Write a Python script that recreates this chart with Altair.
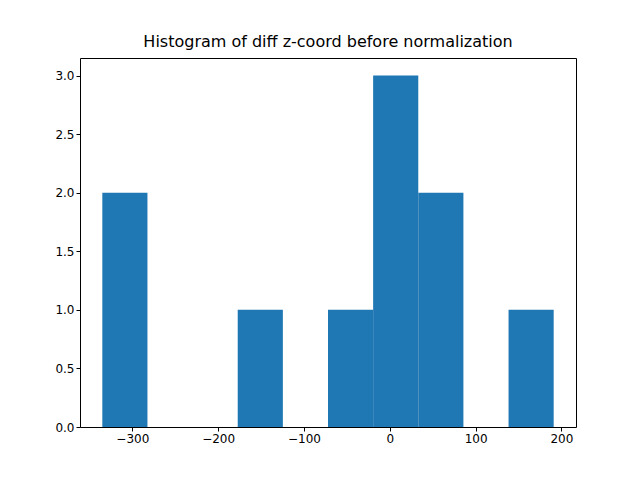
import altair as alt
import pandas as pd

# bin edges and counts (10 bins)
edges = [-335, -282.4, -229.8, -177.2, -124.6, -72.0, -19.4, 33.2, 85.8, 138.4, 191.0]
counts = [2, 0, 0, 1, 0, 1, 3, 2, 0, 1]
x_ticks = [-300, -200, -100, 0, 100, 200]
y_ticks = [0, 0.5, 1.0, 1.5, 2.0, 2.5, 3.0]

df = pd.DataFrame({"lo": edges[:-1], "hi": edges[1:], "count": counts})

chart = alt.Chart(df).mark_rect(color="#1f77b4").encode(
    x=alt.X("lo:Q", scale=alt.Scale(domain=[-361, 217], nice=False, zero=False),
            axis=alt.Axis(values=x_ticks, title=None, format="d")),
    x2="hi:Q",
    y=alt.Y("count:Q", scale=alt.Scale(domain=[0, 3.15], nice=False),
            axis=alt.Axis(values=y_ticks, title=None, format=".1f")),
    y2=alt.datum(0),
).properties(
    width=496, height=369,
    title="Histogram of diff z-coord before normalization",
    autosize=alt.AutoSizeParams(type="none"),
    padding={"left": 72, "top": 50, "right": 56, "bottom": 45},
).configure_view(stroke="black", strokeWidth=1).configure_axis(
    grid=False, domain=False, tickColor="black", labelColor="black",
    labelFont="DejaVu Sans", labelFontSize=12, tickSize=4,
).configure_title(
    font="DejaVu Sans", fontSize=16, fontWeight="normal", offset=8,
)

chart.save("out.html", embed_options={"renderer": "svg", "actions": False})
